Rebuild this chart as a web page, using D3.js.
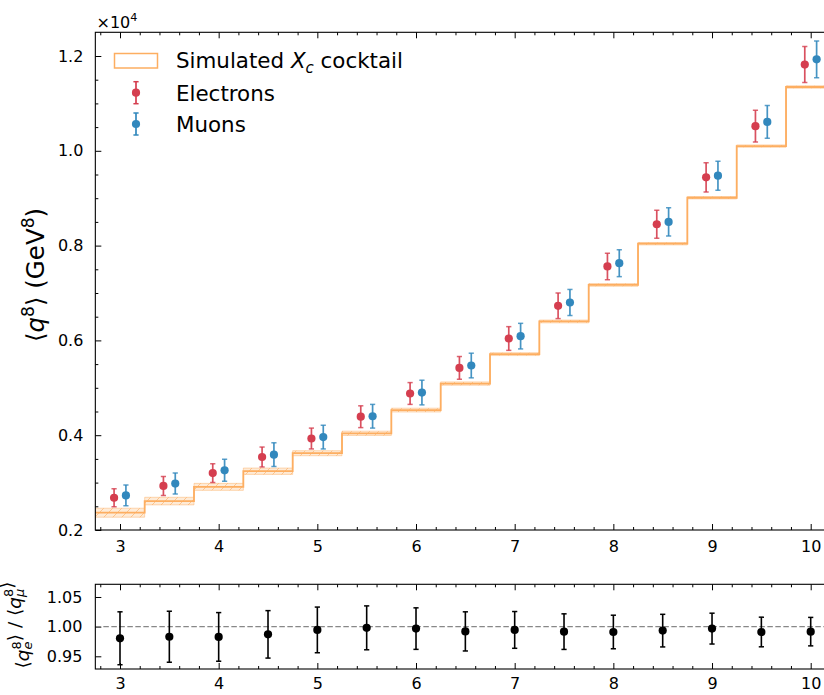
<!DOCTYPE html>
<html><head><meta charset="utf-8">
<script src="https://cdn.jsdelivr.net/npm/d3@7"></script>
<style>
body{margin:0;background:#fff;}
svg{display:block;font-family:"DejaVu Sans",sans-serif;}
.tick text{font-family:"DejaVu Sans",sans-serif;fill:#000;}
</style></head>
<body><div id="chart"></div>
<script>
// ---------------- data ----------------
const xPoints = [3,3.5,4,4.5,5,5.5,6,6.5,7,7.5,8,8.5,9,9.5,10];
// values in units of 1e4 GeV^8
const electronVals = [0.268,0.293,0.320,0.354,0.393,0.439,0.488,0.542,0.604,0.673,0.756,0.845,0.944,1.052,1.182];
const electronErrs = [0.019,0.020,0.020,0.021,0.022,0.023,0.023,0.024,0.025,0.027,0.028,0.0295,0.031,0.0335,0.038];
const muonVals = [0.273,0.298,0.326,0.359,0.396,0.440,0.490,0.547,0.609,0.680,0.763,0.850,0.9475,1.061,1.193];
const muonErrs = [0.022,0.022,0.023,0.025,0.025,0.025,0.026,0.026,0.027,0.0275,0.0285,0.030,0.0306,0.0345,0.0387];
const binEdges = [2.75,3.25,3.75,4.25,4.75,5.25,5.75,6.25,6.75,7.25,7.75,8.25,8.75,9.25,9.75,10.25];
const cocktailVals = [0.2365,0.261,0.291,0.324,0.362,0.404,0.453,0.509,0.571,0.640,0.717,0.804,0.901,1.010,1.1346];
const cocktailErrs = [0.0095,0.008,0.0074,0.0067,0.0053,0.0045,0.004,0.0035,0.003,0.003,0.0028,0.0026,0.0025,0.0025,0.0025];
const ratioVals = [0.9804,0.983,0.9827,0.987,0.9945,0.998,0.9967,0.992,0.9945,0.9916,0.991,0.9933,0.9967,0.991,0.9916];
const ratioErrs = [0.0446,0.043,0.041,0.040,0.0385,0.037,0.035,0.033,0.031,0.030,0.0283,0.0275,0.026,0.025,0.024];
const xTickLabels = [3,4,5,6,7,8,9,10];
const yTickLabels = [0.2,0.4,0.6,0.8,1.0,1.2];
const ratioTickLabels = [0.95,1.00,1.05];
const legendLabels = ["Simulated X_c cocktail","Electrons","Muons"];

// ---------------- layout ----------------
const W = 824, H = 695;
const colRed = "#d53e4f", colBlue = "#3288bd", colOrange = "#fdae61";
const svg = d3.select("#chart").append("svg").attr("width", W).attr("height", H);

const x = d3.scaleLinear().domain([3,10]).range([120.0,810.7]);
const xL = x(2.75), xR = x(10.25);
const y = d3.scaleLinear().domain([0.2,1.25]).range([530,32.3]);
const yr = d3.scaleLinear().domain([0.9286,1.0714]).range([669,584.3]);

const defs = svg.append("defs");
defs.append("clipPath").attr("id","clipTop").append("rect")
  .attr("x",xL).attr("y",y(1.25)).attr("width",xR-xL).attr("height",y(0.2)-y(1.25));
const pat = defs.append("pattern").attr("id","hatch").attr("patternUnits","userSpaceOnUse")
  .attr("width",9).attr("height",9);
pat.append("path").attr("d","M-1,10 L10,-1 M-2,2 L2,-2 M7,11 L11,7")
  .attr("stroke",colOrange).attr("stroke-width",1).attr("opacity",0.9);

const minorX = d3.range(2.8,10.25,0.2).filter(v=>Math.abs(v-Math.round(v))>1e-6);

function xAxes(g, yBot, yTop, pad){
  const ab = g.append("g").attr("transform",`translate(0,${yBot})`)
    .call(d3.axisBottom(x).tickValues(xTickLabels).tickSizeInner(-6).tickSizeOuter(0).tickPadding(pad).tickFormat(d3.format("d")));
  ab.select(".domain").remove();
  ab.selectAll(".tick text").style("font-size","16px");
  const abm = g.append("g").attr("transform",`translate(0,${yBot})`)
    .call(d3.axisBottom(x).tickValues(minorX).tickSizeInner(-3).tickSizeOuter(0).tickFormat(""));
  abm.select(".domain").remove();
  const at = g.append("g").attr("transform",`translate(0,${yTop})`)
    .call(d3.axisTop(x).tickValues(xTickLabels).tickSizeInner(-6).tickSizeOuter(0).tickFormat(""));
  at.select(".domain").remove();
  const atm = g.append("g").attr("transform",`translate(0,${yTop})`)
    .call(d3.axisTop(x).tickValues(minorX).tickSizeInner(-3).tickSizeOuter(0).tickFormat(""));
  atm.select(".domain").remove();
}

// ---------------- top panel ----------------
const topG = svg.append("g");
xAxes(topG, y(0.2), y(1.25), 11);
const minorY = d3.range(0.25,1.25,0.05).filter(v=>Math.abs(v*5-Math.round(v*5))>1e-6);
const ayl = topG.append("g").attr("transform",`translate(${xL},0)`)
  .call(d3.axisLeft(y).tickValues(yTickLabels).tickSizeInner(-6).tickSizeOuter(0).tickPadding(12).tickFormat(d3.format(".1f")));
ayl.select(".domain").remove();
ayl.selectAll(".tick text").style("font-size","16px");
topG.append("g").attr("transform",`translate(${xL},0)`)
  .call(d3.axisLeft(y).tickValues(minorY).tickSizeInner(-3).tickSizeOuter(0).tickFormat(""))
  .select(".domain").remove();
topG.append("g").attr("transform",`translate(${xR},0)`)
  .call(d3.axisRight(y).tickValues(yTickLabels).tickSizeInner(-6).tickSizeOuter(0).tickFormat(""))
  .select(".domain").remove();

// cocktail band + step
const stepData = cocktailVals.map((v,i)=>({x:binEdges[i],v:v,e:cocktailErrs[i]}));
stepData.push({x:binEdges[binEdges.length-1],v:cocktailVals[cocktailVals.length-1],e:cocktailErrs[cocktailErrs.length-1]});
const plot = topG.append("g").attr("clip-path","url(#clipTop)");
const area = d3.area().curve(d3.curveStepAfter).x(d=>x(d.x)).y0(d=>y(d.v-d.e)).y1(d=>y(d.v+d.e));
plot.append("path").datum(stepData).attr("d",area).attr("fill",colOrange).attr("fill-opacity",0.25)
  .attr("stroke",colOrange).attr("stroke-opacity",0.45).attr("stroke-width",1);
plot.append("path").datum(stepData).attr("d",area).attr("fill","url(#hatch)").attr("fill-opacity",0.7);
const line = d3.line().curve(d3.curveStepAfter).x(d=>x(d.x)).y(d=>y(d.v));
plot.append("path").datum(stepData).attr("d",line).attr("fill","none")
  .attr("stroke",colOrange).attr("stroke-width",1.8);

function errPoints(g, xs, vals, errs, off, col, ys){
  const grp = g.append("g");
  xs.forEach((xv,i)=>{
    const cx = x(xv+off);
    const y1 = ys(vals[i]+errs[i]), y0 = ys(vals[i]-errs[i]);
    grp.append("line").attr("x1",cx).attr("x2",cx).attr("y1",y0).attr("y2",y1)
      .attr("stroke",col).attr("stroke-width",1.7).attr("stroke-opacity",0.9);
    [y0,y1].forEach(yy=>grp.append("line").attr("x1",cx-2.6).attr("x2",cx+2.6).attr("y1",yy).attr("y2",yy)
      .attr("stroke",col).attr("stroke-width",1.5).attr("stroke-opacity",0.8));
    grp.append("circle").attr("cx",cx).attr("cy",ys(vals[i])).attr("r",4.1).attr("fill",col);
  });
}
errPoints(plot, xPoints, electronVals, electronErrs, -0.06, colRed, y);
errPoints(plot, xPoints, muonVals, muonErrs, 0.06, colBlue, y);

// frame
topG.append("rect").attr("x",xL).attr("y",y(1.25)).attr("width",xR-xL).attr("height",y(0.2)-y(1.25))
  .attr("fill","none").attr("stroke","#000").attr("stroke-width",1.1);

// rich text helper
function rich(t, segs, size){
  let cur = 0;
  segs.forEach(s=>{
    const target = s.sup ? -0.42*size : (s.sub ? 0.2*size : 0);
    const fs = (s.sup||s.sub) ? size*0.7 : size;
    t.append("tspan").attr("dy",(target-cur)).style("font-size",fs+"px")
      .style("font-style",s.it?"italic":"normal").text(s.t);
    cur = target;
  });
  return t;
}

// offset text
rich(svg.append("text").attr("x",96.5).attr("y",27.5).attr("fill","#000"),
  [{t:"×10"},{t:"4",sup:true}], 16);

// y label
rich(svg.append("text").attr("transform","translate(44,275) rotate(-90)").attr("text-anchor","middle").attr("fill","#000"),
  [{t:"⟨"},{t:"q",it:true},{t:"8",sup:true},{t:"⟩ (GeV"},{t:"8",sup:true},{t:")"}], 24.5);

// legend
const leg = svg.append("g");
leg.append("rect").attr("x",114.5).attr("y",53.5).attr("width",43).attr("height",14.5)
  .attr("fill","none").attr("stroke",colOrange).attr("stroke-width",1.5);
rich(leg.append("text").attr("x",176).attr("y",68.3).attr("fill","#000"),
  [{t:"Simulated "},{t:"X",it:true},{t:"c",it:true,sub:true},{t:" cocktail"}], 21.4);
[[colRed,92.7,100.7,legendLabels[1]],[colBlue,124,132,legendLabels[2]]].forEach(([c,cy,by,lab])=>{
  leg.append("line").attr("x1",136).attr("x2",136).attr("y1",cy-11).attr("y2",cy+11).attr("stroke",c).attr("stroke-width",1.7);
  [cy-11,cy+11].forEach(yy=>leg.append("line").attr("x1",133.4).attr("x2",138.6).attr("y1",yy).attr("y2",yy).attr("stroke",c).attr("stroke-width",1.5));
  leg.append("circle").attr("cx",136).attr("cy",cy).attr("r",4.1).attr("fill",c);
  leg.append("text").attr("x",176).attr("y",by).attr("fill","#000").style("font-size","21.4px").text(lab);
});

// ---------------- ratio panel ----------------
const botG = svg.append("g");
xAxes(botG, yr(0.9286), yr(1.0714), 8.5);
const ayr = botG.append("g").attr("transform",`translate(${xL},0)`)
  .call(d3.axisLeft(yr).tickValues(ratioTickLabels).tickSizeInner(-6).tickSizeOuter(0).tickPadding(13).tickFormat(d3.format(".2f")));
ayr.select(".domain").remove();
ayr.selectAll(".tick text").style("font-size","16px");
botG.append("g").attr("transform",`translate(${xR},0)`)
  .call(d3.axisRight(yr).tickValues(ratioTickLabels).tickSizeInner(-6).tickSizeOuter(0).tickFormat(""))
  .select(".domain").remove();
botG.append("line").attr("x1",xL).attr("x2",xR).attr("y1",yr(1)).attr("y2",yr(1))
  .attr("stroke","#888").attr("stroke-width",1.4).attr("stroke-dasharray","5.5,2.5");
xPoints.forEach((xv,i)=>{
  const cx = x(xv), y0 = yr(ratioVals[i]-ratioErrs[i]), y1 = yr(ratioVals[i]+ratioErrs[i]);
  botG.append("line").attr("x1",cx).attr("x2",cx).attr("y1",y0).attr("y2",y1).attr("stroke","#000").attr("stroke-width",1.6);
  [y0,y1].forEach(yy=>botG.append("line").attr("x1",cx-2.6).attr("x2",cx+2.6).attr("y1",yy).attr("y2",yy).attr("stroke","#000").attr("stroke-width",1.5));
  botG.append("circle").attr("cx",cx).attr("cy",yr(ratioVals[i])).attr("r",4.1).attr("fill","#000");
});
botG.append("rect").attr("x",xL).attr("y",yr(1.0714)).attr("width",xR-xL).attr("height",yr(0.9286)-yr(1.0714))
  .attr("fill","none").attr("stroke","#000").attr("stroke-width",1.1);

// ratio y label with stacked sub/sup
const rl = svg.append("text").attr("transform","translate(28.5,625) rotate(-90)").attr("text-anchor","middle").attr("fill","#000");
function stacked(t, base, sub, sup, size){
  t.append("tspan").attr("dy",0).style("font-style","italic").style("font-size",size+"px").text(base);
  const s1 = t.append("tspan").attr("dy",0.2*size).style("font-style","italic").style("font-size",(size*0.7)+"px").text(sub);
  const w = s1.node().getComputedTextLength();
  t.append("tspan").attr("dx",-w).attr("dy",-0.62*size).style("font-size",(size*0.7)+"px").text(sup);
  t.append("tspan").attr("dy",0.42*size).style("font-size",size+"px").text("");
}
const fsr = 18.5;
rl.append("tspan").style("font-size",fsr+"px").text("⟨");
stacked(rl,"q","e","8",fsr);
rl.append("tspan").style("font-size",fsr+"px").text("⟩ / ⟨");
stacked(rl,"q","μ","8",fsr);
rl.append("tspan").style("font-size",fsr+"px").text("⟩");
</script></body></html>
